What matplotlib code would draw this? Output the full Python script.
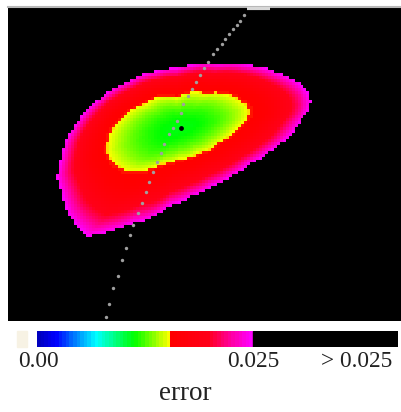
import numpy as np
import matplotlib
matplotlib.use("Agg")
import matplotlib.pyplot as plt
from matplotlib.colors import LinearSegmentedColormap

# region where error < 0.025 (outer edge) and where error < ~0.0155 (yellow edge)
outer_x = [193, 220, 250, 280, 300, 310, 313, 310, 303, 290, 273, 253, 233, 213, 193, 170, 150, 132, 112,
           88, 78, 68, 62, 57, 60, 65, 75, 85, 105, 128, 155, 178]
outer_y = [65, 64, 65, 73, 83, 93, 102, 112, 120, 137, 150, 163, 177, 187, 197, 207, 220, 225, 232,
           237, 228, 215, 195, 178, 162, 142, 125, 112, 95, 82, 72, 68]
inner_x = [207, 237, 250, 250, 237, 220, 200, 180, 162, 145, 128, 115, 107, 110, 122, 145, 178]
inner_y = [93, 97, 107, 117, 130, 143, 153, 160, 165, 172, 173, 165, 152, 134, 118, 104, 97]
min_x, min_y = 181, 128
err_min = 0.011
err_inner = 0.0155
err_max = 0.025

# dotted path through the minimum
path_x = [244.3, 240, 236.7, 232.7, 229.3, 225, 221.7, 216.7, 212.7, 208.3, 204, 200, 196, 192, 188,
          183.3, 180.7, 176.7, 172.7, 169, 164.3, 161, 156.7, 153.3, 149.3, 145.7, 141.7, 137.7, 133.3,
          130, 126, 121.7, 117.7, 113.3, 109.3, 105.7]
path_y = [15, 20.7, 25, 29.3, 34, 39.3, 44, 49.3, 54.3, 61.7, 68, 75, 82, 89, 96, 104, 112.7, 120.7,
          128.3, 134.3, 144, 153.3, 162.3, 171.7, 182, 191.7, 203.3, 212.7, 225, 235, 247.7, 260,
          275.7, 288.3, 304, 316.7]
top_mark_x = [247, 270]

cb_labels = ["0.00", "0.025", "> 0.025"]

cmap = LinearSegmentedColormap.from_list("err", [
    (0.00, (0.0, 0.0, 0.75)),
    (0.08, (0.0, 0.0, 1.0)),
    (0.18, (0.0, 0.55, 1.0)),
    (0.27, (0.0, 1.0, 1.0)),
    (0.36, (0.0, 1.0, 0.5)),
    (0.45, (0.0, 1.0, 0.0)),
    (0.55, (0.6, 1.0, 0.0)),
    (0.615, (1.0, 1.0, 0.0)),
    (0.62, (1.0, 0.0, 0.0)),
    (0.80, (1.0, 0.0, 0.1)),
    (0.90, (1.0, 0.0, 0.6)),
    (1.00, (1.0, 0.0, 1.0)),
])
cmap.set_over("black")
cmap.set_bad("black")


def radius_fn(px, py):
    px = np.array(px, float) - min_x
    py = np.array(py, float) - min_y
    ang = np.arctan2(py, px)
    r = np.hypot(px, py)
    order = np.argsort(ang)
    return lambda phi: np.interp(phi, ang[order], r[order], period=2 * np.pi)


def error_field(gx, gy):
    dx, dy = gx - min_x, gy - min_y
    r = np.hypot(dx, dy)
    phi = np.arctan2(dy, dx)
    ri = radius_fn(inner_x, inner_y)(phi)
    ro = radius_fn(outer_x, outer_y)(phi)
    e = np.full(r.shape, np.nan)
    inside = r <= ri
    e[inside] = err_min + (err_inner - err_min) * (r[inside] / ri[inside]) ** 2
    band = (r > ri) & (r <= ro)
    t = (r[band] - ri[band]) / (ro[band] - ri[band])
    e[band] = err_inner + (err_max - err_inner) * t ** 1.9
    return np.ma.masked_invalid(e)


fig = plt.figure(figsize=(4.02, 4.12), dpi=100)

ax = fig.add_axes([8 / 402, 91 / 412, 394 / 402, 314 / 412])
ax.set_facecolor("black")
step = 3
xs = np.arange(8, 402, step) + step / 2
ys = np.arange(7, 321, step) + step / 2
gx, gy = np.meshgrid(xs, ys)
field = error_field(gx, gy)
ax.imshow(field, cmap=cmap, vmin=0, vmax=err_max, extent=(8, 402, 321, 7),
          origin="upper", interpolation="nearest", aspect="auto")
ax.scatter(path_x, path_y, s=6, color="#a0a0a0", linewidths=0, zorder=3)
ax.plot(top_mark_x, [8, 8], color="#d8d8d8", lw=3, solid_capstyle="butt", zorder=3)
ax.scatter([min_x], [min_y], s=12, color="black", linewidths=0, zorder=4)
ax.set_xlim(8, 402)
ax.set_ylim(321, 7)
ax.set_xticks([])
ax.set_yticks([])
for side in ["bottom", "left", "right"]:
    ax.spines[side].set_visible(False)
ax.spines["top"].set_color("#b8b8b8")
ax.spines["top"].set_linewidth(1.5)

# colour bar
cax = fig.add_axes([37 / 402, 65 / 412, 361 / 402, 16 / 412])
cb_end = err_max * 361 / 216
grad = np.linspace(0, err_max, 60)[None, :]
cax.imshow(grad, cmap=cmap, vmin=0, vmax=err_max, extent=(0, err_max, 0, 1),
           aspect="auto", interpolation="nearest")
cax.axvspan(err_max, cb_end, color="black")
cax.set_xlim(0, cb_end)
cax.set_ylim(0, 1)
cax.axis("off")

fig.patches.append(plt.Rectangle((17 / 402, 65 / 412), 10 / 402, 16 / 412,
                                 transform=fig.transFigure, color="#f7f2e4", zorder=0))

font = dict(family="Liberation Serif", color="#222222")
fig.text(38 / 402, 0.109, cb_labels[0], ha="center", va="baseline", fontsize=16.8, **font)
fig.text(253 / 402, 0.109, cb_labels[1], ha="center", va="baseline", fontsize=16.8, **font)
fig.text(357 / 402, 0.109, cb_labels[2], ha="center", va="baseline", fontsize=16.8, **font)
fig.text(185 / 402, 0.029, "error", ha="center", va="baseline", fontsize=19.5, **font)

fig.savefig("out.png", dpi=100)
